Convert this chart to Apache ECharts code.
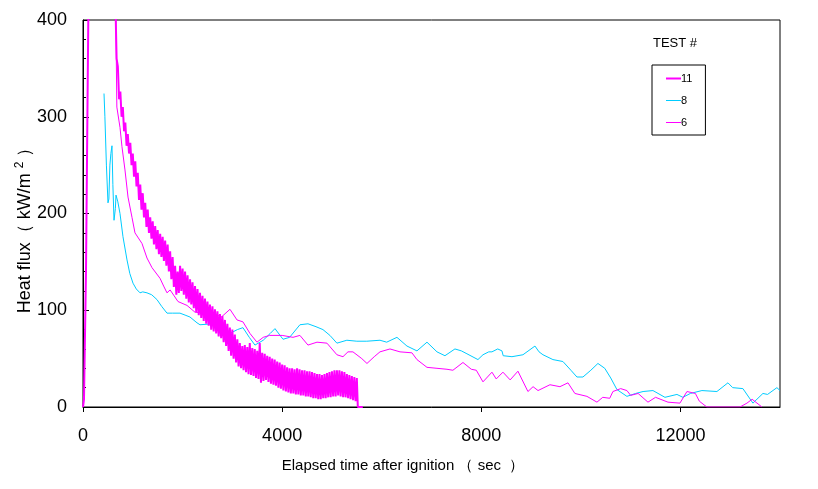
<!DOCTYPE html>
<html>
<head>
<meta charset="utf-8">
<script src="https://cdn.jsdelivr.net/npm/echarts@6/dist/echarts.min.js"></script>
<style>
html,body{margin:0;padding:0;background:#fff;}
#chart{width:818px;height:489px;}
</style>
</head>
<body>
<div id="chart"></div>
<script>
// ---- Data ----
var seriesNames = ['11', '8', '6'];
var xTickValues = [0, 4000, 8000, 12000];
var yTickValues = [0, 100, 200, 300, 400];

// Test 11 (thick magenta, noisy signal)
var test11Time = [0, 20, 50, 60, 90, 110, 600, 650, 675, 700, 725, 750, 775, 800, 825, 850, 875, 900, 925, 950, 975, 1000, 1025, 1050, 1075, 1100, 1125, 1150, 1175, 1200, 1225, 1250, 1275, 1300, 1325, 1350, 1375, 1400, 1425, 1450, 1475, 1500, 1525, 1550, 1575, 1600, 1625, 1650, 1675, 1700, 1725, 1750, 1775, 1800, 1825, 1850, 1875, 1900, 1925, 1950, 1975, 2000, 2025, 2050, 2075, 2100, 2125, 2150, 2175, 2200, 2225, 2250, 2275, 2300, 2325, 2350, 2375, 2400, 2425, 2450, 2475, 2500, 2525, 2550, 2575, 2600, 2625, 2650, 2675, 2700, 2725, 2750, 2775, 2800, 2825, 2850, 2875, 2900, 2925, 2950, 2975, 3000, 3025, 3050, 3075, 3100, 3125, 3150, 3175, 3200, 3225, 3250, 3275, 3300, 3325, 3350, 3375, 3400, 3425, 3450, 3475, 3500, 3525, 3550, 3575, 3600, 3625, 3650, 3675, 3700, 3725, 3750, 3775, 3800, 3825, 3850, 3875, 3900, 3925, 3950, 3975, 4000, 4025, 4050, 4075, 4100, 4125, 4150, 4175, 4200, 4225, 4250, 4275, 4300, 4325, 4350, 4375, 4400, 4425, 4450, 4475, 4500, 4525, 4550, 4575, 4600, 4625, 4650, 4675, 4700, 4725, 4750, 4775, 4800, 4825, 4850, 4875, 4900, 4925, 4950, 4975, 5000, 5025, 5050, 5075, 5100, 5125, 5150, 5175, 5200, 5225, 5250, 5275, 5300, 5325, 5350, 5375, 5400, 5425, 5450, 5475, 5500, 5520, 5620];
var test11Flux = [0, 8, 10, 140, 310, 420, 420, 420, 360, 352, 318, 326, 300, 310, 285, 294, 270, 282, 262, 273, 250, 262, 238, 254, 228, 242, 214, 230, 204, 221, 196, 211, 186, 204, 180, 196, 174, 192, 168, 187, 163, 183, 158, 179, 155, 176, 151, 172, 146, 168, 140, 161, 132, 155, 124, 146, 116, 140, 118, 146, 120, 143, 116, 140, 112, 136, 108, 132, 106, 129, 102, 125, 98, 122, 95, 118, 92, 115, 89, 112, 86, 109, 84, 106, 80, 104, 78, 101, 76, 99, 73, 96, 71, 94, 67, 90, 63, 86, 58, 82, 53, 80, 50, 75, 46, 70, 42, 66, 40, 63, 38, 64, 36, 62, 34, 66, 33, 61, 32, 60, 30, 58, 29, 66, 25, 56, 27, 55, 28, 53, 26, 52, 24, 50, 23, 49, 22, 47, 20, 46, 19, 44, 17, 43, 16, 41, 15, 40, 14, 40, 14, 39, 13, 40, 13, 39, 12, 38, 12, 38, 11, 37, 11, 37, 10, 36, 9, 35, 9, 34, 8, 34, 8, 33, 9, 34, 9, 35, 10, 36, 10, 37, 11, 38, 11, 38, 12, 38, 11, 37, 10, 36, 10, 34, 9, 33, 8, 32, 7, 31, 6, 30, 0, 0];

// Test 8 (thin cyan)
var test8Time = [422, 440, 470, 502, 520, 540, 560, 582, 600, 623, 650, 663, 700, 743, 803, 884, 940, 1004, 1070, 1145, 1200, 1285, 1380, 1486, 1580, 1687, 1800, 1948, 2050, 2149, 2290, 2350, 2600, 2800, 2952, 3100, 3213, 3340, 3454, 3620, 3760, 3856, 4017, 4150, 4357, 4519, 4680, 4820, 4960, 5100, 5300, 5500, 5700, 5965, 6100, 6306, 6507, 6708, 6909, 7110, 7270, 7471, 7600, 7712, 7933, 8034, 8150, 8214, 8330, 8415, 8440, 8616, 8640, 8837, 9078, 9160, 9239, 9439, 9640, 9800, 9921, 10042, 10200, 10343, 10480, 10600, 10725, 10925, 11100, 11250, 11448, 11689, 11930, 12050, 12200, 12432, 12733, 12954, 13050, 13255, 13456, 13657, 13750, 13938, 14000];
var test8Flux = [324, 300, 250, 211, 215, 250, 262, 270, 230, 193, 205, 219, 212, 200, 176, 152, 138, 128, 122, 118, 119, 118, 116, 111, 104, 97, 97, 97, 95, 93, 87, 85, 86, 83, 76, 80, 82, 72, 64, 69, 76, 81, 70, 72, 85, 86, 83, 80, 74, 66, 69, 68, 68, 69, 67, 72, 63, 58, 67, 57, 53, 60, 58, 55, 49, 54, 57, 57, 60, 58, 53, 52, 54, 54, 63, 57, 54, 49, 47, 38, 31, 31, 38, 45, 40, 30, 18, 11, 14, 16, 17, 10, 13, 10, 14, 17, 16, 25, 20, 19, 4, 14, 13, 20, 17];

// Test 6 (thin magenta)
var test6Time = [620, 660, 680, 743, 783, 843, 904, 984, 1044, 1185, 1285, 1386, 1547, 1620, 1687, 1750, 1908, 2089, 2249, 2450, 2650, 2780, 2952, 3093, 3213, 3354, 3494, 3620, 3750, 4000, 4218, 4357, 4519, 4700, 4900, 5100, 5222, 5322, 5422, 5600, 5704, 5850, 5965, 6166, 6367, 6607, 6708, 6909, 7110, 7311, 7430, 7632, 7800, 7900, 8034, 8214, 8300, 8435, 8580, 8736, 8937, 9040, 9140, 9379, 9580, 9741, 9880, 10122, 10323, 10440, 10580, 10644, 10800, 10925, 11000, 11150, 11348, 11500, 11750, 11990, 12131, 12300, 12380, 12530, 13196, 13336, 13440, 13637];
var test6Flux = [430, 400, 310, 289, 269, 245, 217, 196, 180, 169, 154, 144, 133, 125, 118, 121, 109, 105, 98, 97, 96, 93, 101, 90, 88, 76, 67, 72, 74, 74, 72, 74, 64, 67, 66, 54, 52, 57, 57, 50, 45, 52, 57, 60, 57, 56, 49, 41, 40, 39, 38, 46, 39, 38, 26, 36, 29, 36, 28, 37, 16, 21, 17, 23, 21, 25, 14, 11, 5, 10, 9, 16, 19, 17, 12, 14, 5, 10, 5, 4, 16, 14, 6, 0, 0, 4, 8, 0];

function pairs(t, v) {
  var out = [];
  var n = Math.min(t.length, v.length);
  for (var i = 0; i < n; i++) out.push([t[i], v[i]]);
  return out;
}

var chart = echarts.init(document.getElementById('chart'), null, {renderer: 'canvas'});
var FONT = 'Liberation Sans, Arial, sans-serif';

var option = {
  backgroundColor: '#ffffff',
  animation: false,
  grid: {
    left: 83, top: 20, right: 38, bottom: 82,
    show: true, borderColor: '#000', borderWidth: 1, backgroundColor: '#fff'
  },
  xAxis: {
    type: 'value', min: 0, max: 14000, interval: 4000,
    axisLine: {show: true, onZero: false, lineStyle: {color: '#000', width: 1}},
    axisTick: {show: true, inside: false, length: 5, lineStyle: {color: '#000'}},
    splitLine: {show: false},
    axisLabel: {
      color: '#000', fontFamily: FONT, fontSize: 18, margin: 20,
      showMaxLabel: false,
      formatter: function (v) { return xTickValues.indexOf(v) >= 0 ? String(v) : ''; }
    }
  },
  yAxis: {
    type: 'value', min: 0, max: 400, interval: 100,
    axisLine: {show: true, lineStyle: {color: '#000', width: 1}},
    axisTick: {show: true, inside: true, length: 6, lineStyle: {color: '#000'}},
    minorTick: {show: true, splitNumber: 5, length: 3, lineStyle: {color: '#000'}},
    splitLine: {show: false},
    axisLabel: {
      color: '#000', fontFamily: FONT, fontSize: 18, margin: 16,
      formatter: function (v) { return yTickValues.indexOf(v) >= 0 ? String(v) : ''; }
    }
  },
  legend: {
    show: true,
    data: [
      {name: seriesNames[0], icon: 'path://M0,0H15V2H0Z'},
      {name: seriesNames[1], icon: 'path://M0,0H15V1H0Z'},
      {name: seriesNames[2], icon: 'path://M0,0H15V1H0Z'}
    ],
    symbolKeepAspect: true,
    orient: 'vertical',
    left: 652, top: 65,
    borderColor: '#000', borderWidth: 1, borderRadius: 0,
    padding: [8, 13, 7, 14],
    itemWidth: 15, itemHeight: 11, itemGap: 11,
    textStyle: {color: '#000', fontFamily: FONT, fontSize: 11, padding: [0, 0, 0, -5]},
    selectedMode: false
  },
  graphic: [
    {
      type: 'text', left: 653, top: 37,
      style: {text: 'TEST #', font: '13px ' + FONT, fill: '#000'}
    },
    {
      type: 'text', x: 25, y: 226, rotation: Math.PI / 2,
      style: {
        text: 'Heat flux（ kW/m {sup|2} ）',
        font: '18px ' + FONT, fill: '#000',
        align: 'center', verticalAlign: 'middle',
        textAlign: 'center', textVerticalAlign: 'middle',
        rich: {sup: {fontSize: 12, fontFamily: FONT, fill: '#000', color: '#000', verticalAlign: 'top', padding: [0, 0, 10, 0]}}
      }
    },
    {
      type: 'text', x: 403, y: 466,
      style: {
        text: 'Elapsed time after ignition （ sec  ）',
        font: '15px ' + FONT, fill: '#000',
        align: 'center', verticalAlign: 'middle',
        textAlign: 'center', textVerticalAlign: 'middle'
      }
    }
  ],
  series: [
    {
      name: seriesNames[0], type: 'line', data: pairs(test11Time, test11Flux),
      symbol: 'none', showSymbol: false, clip: true, z: 5,
      lineStyle: {color: '#ff00ff', width: 2}, itemStyle: {color: '#ff00ff'}
    },
    {
      name: seriesNames[1], type: 'line', data: pairs(test8Time, test8Flux),
      symbol: 'none', showSymbol: false, clip: true, z: 3,
      lineStyle: {color: '#00ccff', width: 1}, itemStyle: {color: '#00ccff'}
    },
    {
      name: seriesNames[2], type: 'line', data: pairs(test6Time, test6Flux),
      symbol: 'none', showSymbol: false, clip: true, z: 4,
      lineStyle: {color: '#ff00ff', width: 1}, itemStyle: {color: '#ff00ff'}
    }
  ]
};
chart.setOption(option);
</script>
</body>
</html>
